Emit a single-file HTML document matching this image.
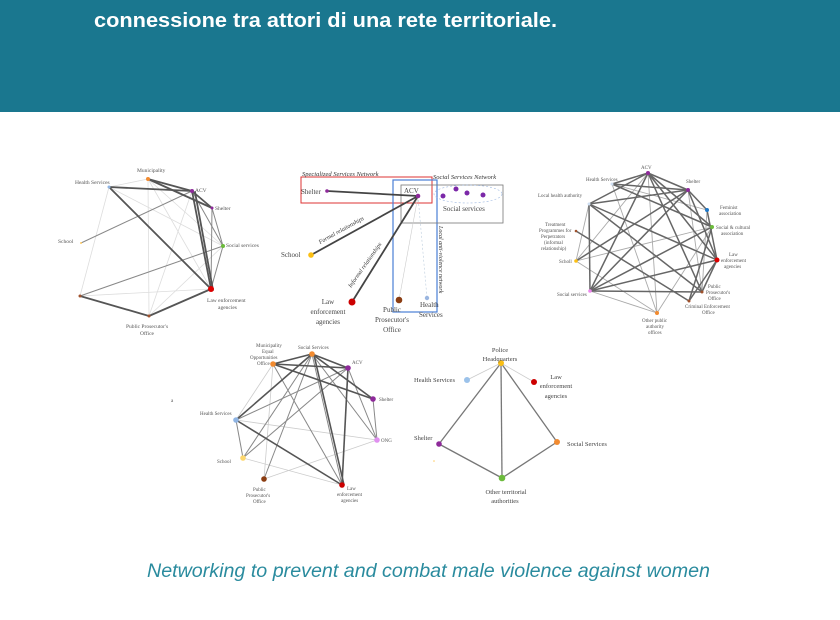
<!DOCTYPE html>
<html><head><meta charset="utf-8"><style>
html,body{margin:0;padding:0;background:#fff;width:840px;height:620px;overflow:hidden}
svg{display:block}
</style></head><body>
<svg width="840" height="620" viewBox="0 0 840 620" xmlns="http://www.w3.org/2000/svg">
<rect x="0" y="0" width="840" height="112" fill="#1a778f"/>
<text x="94" y="27" font-family="Liberation Sans, sans-serif" font-weight="bold" font-size="20" fill="#fff" textLength="463" lengthAdjust="spacingAndGlyphs">connessione tra attori di una rete territoriale.</text>
<text x="147" y="577" font-family="Liberation Sans, sans-serif" font-style="italic" font-size="19" fill="#2a8b9e" textLength="563" lengthAdjust="spacingAndGlyphs">Networking to prevent and combat male violence against women</text>

<g font-family="Liberation Serif, serif" font-size="5.5" fill="#555">
<!-- Graph 1 -->
<g stroke-linecap="round">
<g stroke="#ddd" stroke-width="0.8">
<line x1="109" y1="187" x2="148" y2="179"/><line x1="109" y1="187" x2="80" y2="296"/>
<line x1="148" y1="179" x2="149" y2="316"/><line x1="148" y1="179" x2="223" y2="246"/>
<line x1="148" y1="179" x2="211" y2="289"/><line x1="109" y1="187" x2="223" y2="246"/>
<line x1="80" y1="296" x2="211" y2="289"/><line x1="149" y1="316" x2="223" y2="246"/>
<line x1="192" y1="191" x2="149" y2="316"/>
</g>
<g stroke="#888" stroke-width="1">
<line x1="81" y1="243" x2="192" y2="191"/><line x1="80" y1="296" x2="223" y2="246"/>
<line x1="192" y1="191" x2="223" y2="246"/><line x1="212" y1="208" x2="223" y2="246"/>
<line x1="223" y1="246" x2="211" y2="289"/><line x1="212" y1="208" x2="211" y2="289"/>
</g>
<g stroke="#555" stroke-width="1.8">
<line x1="148" y1="179" x2="192" y2="191"/><line x1="148" y1="179" x2="212" y2="208"/>
<line x1="109" y1="187" x2="192" y2="191"/><line x1="109" y1="187" x2="211" y2="289"/>
<line x1="192" y1="191" x2="212" y2="208"/><line x1="192" y1="191" x2="211" y2="289"/>
<line x1="195" y1="192" x2="213" y2="290"/>
<line x1="80" y1="296" x2="149" y2="316"/><line x1="149" y1="316" x2="211" y2="289"/>
</g>
</g>
<circle cx="148" cy="179" r="2" fill="#f28b30"/><circle cx="109" cy="187" r="1.5" fill="#8fb4e3"/>
<circle cx="192" cy="191" r="2" fill="#8e2a9a"/><circle cx="212" cy="208" r="1.5" fill="#8e2a9a"/>
<circle cx="223" cy="246" r="2" fill="#6cbb3c"/><circle cx="211" cy="289" r="3" fill="#d00"/>
<circle cx="149" cy="316" r="1.5" fill="#a0522d"/><circle cx="80" cy="296" r="1.5" fill="#a0522d"/>
<circle cx="81" cy="243" r="1" fill="#fc6"/>
<text x="137" y="172">Municipality</text><text x="75" y="184">Health Services</text>
<text x="195" y="192">ACV</text><text x="215" y="210">Shelter</text>
<text x="226" y="247">Social services</text><text x="207" y="302">Law enforcement</text>
<text x="218" y="309">agencies</text><text x="58" y="243">School</text>
<text x="126" y="328">Public Prosecutor's</text><text x="140" y="335">Office</text>

<!-- Graph 2 -->
<rect x="301" y="177" width="131" height="26" fill="none" stroke="#d33" stroke-width="1"/>
<rect x="393" y="180" width="44" height="132" fill="none" stroke="#4a7fd6" stroke-width="1.2"/>
<rect x="401" y="185" width="102" height="38" fill="none" stroke="#777" stroke-width="0.8"/>
<ellipse cx="468" cy="194" rx="34" ry="9" fill="none" stroke="#9bb6e0" stroke-width="0.6" stroke-dasharray="2 2"/>
<line x1="418" y1="196" x2="399" y2="300" stroke="#ccc" stroke-width="0.6"/>
<line x1="418" y1="196" x2="427" y2="298" stroke="#bcd" stroke-width="0.6" stroke-dasharray="2 2"/>
<g stroke="#444" stroke-width="1.8">
<line x1="327" y1="191" x2="418" y2="196"/><line x1="311" y1="255" x2="418" y2="196"/><line x1="352" y1="302" x2="418" y2="196"/>
</g>
<circle cx="327" cy="191" r="1.8" fill="#8e2a9a"/><circle cx="418" cy="196" r="2.3" fill="#8e2a9a"/>
<circle cx="443" cy="196" r="2.5" fill="#7b28a8"/><circle cx="456" cy="189" r="2.5" fill="#7b28a8"/>
<circle cx="467" cy="193" r="2.5" fill="#7b28a8"/><circle cx="483" cy="195" r="2.5" fill="#7b28a8"/>
<circle cx="311" cy="255" r="2.8" fill="#fbbf14"/><circle cx="352" cy="302" r="3.5" fill="#c00"/>
<circle cx="399" cy="300" r="3.3" fill="#8b3d12"/><circle cx="427" cy="298" r="2.2" fill="#9bb6e0"/>
<g font-style="italic" font-size="6.5" fill="#333">
<text x="302" y="176">Specialized Services Network</text>
<text x="433" y="179">Social Services Network</text>
<text transform="translate(320,244) rotate(-29)" font-size="6">Formal relationships</text>
<text transform="translate(351,288) rotate(-55)" font-size="6">Informal relationships</text>
<text transform="translate(439,226) rotate(90)" font-size="6">Local anti-violence network</text>
</g>
<g font-size="7" fill="#444">
<text x="301" y="194">Shelter</text><text x="404" y="193">ACV</text>
<text x="443" y="211">Social services</text><text x="281" y="257">School</text>
<text x="328" y="304" text-anchor="middle">Law</text><text x="328" y="314" text-anchor="middle">enforcement</text><text x="328" y="324" text-anchor="middle">agencies</text>
<text x="392" y="312" text-anchor="middle">Public</text><text x="392" y="322" text-anchor="middle">Prosecutor's</text><text x="392" y="332" text-anchor="middle">Office</text>
<text x="420" y="307">Health</text><text x="419" y="317">Services</text>
</g>

<!-- Graph 3 -->
<g stroke="#aaa" stroke-width="0.9">
<line x1="576" y1="261" x2="712" y2="227"/><line x1="576" y1="261" x2="657" y2="313"/>
<line x1="576" y1="261" x2="648" y2="173"/><line x1="590" y1="291" x2="702" y2="292"/>
<line x1="612" y1="184" x2="657" y2="313"/><line x1="648" y1="173" x2="657" y2="313"/>
<line x1="590" y1="291" x2="657" y2="313"/><line x1="688" y1="190" x2="702" y2="292"/>
<line x1="707" y1="210" x2="702" y2="292"/><line x1="657" y1="313" x2="712" y2="227"/>
<line x1="612" y1="184" x2="707" y2="210"/><line x1="589" y1="204" x2="576" y2="261"/>
</g>
<g stroke="#666" stroke-width="1.5">
<line x1="648" y1="173" x2="612" y2="184"/><line x1="648" y1="173" x2="688" y2="190"/>
<line x1="648" y1="173" x2="589" y2="204"/><line x1="648" y1="173" x2="590" y2="291"/>
<line x1="648" y1="173" x2="717" y2="260"/><line x1="648" y1="173" x2="712" y2="227"/>
<line x1="648" y1="173" x2="702" y2="292"/><line x1="612" y1="184" x2="688" y2="190"/>
<line x1="612" y1="184" x2="712" y2="227"/><line x1="589" y1="204" x2="688" y2="190"/>
<line x1="589" y1="204" x2="717" y2="260"/><line x1="589" y1="204" x2="702" y2="292"/>
<line x1="589" y1="204" x2="590" y2="291"/><line x1="688" y1="190" x2="590" y2="291"/>
<line x1="688" y1="190" x2="707" y2="210"/><line x1="688" y1="190" x2="717" y2="260"/>
<line x1="688" y1="190" x2="576" y2="261"/><line x1="707" y1="210" x2="717" y2="260"/>
<line x1="712" y1="227" x2="590" y2="291"/><line x1="717" y1="260" x2="590" y2="291"/>
<line x1="717" y1="260" x2="702" y2="292"/><line x1="576" y1="231" x2="689" y2="301"/>
<line x1="590" y1="291" x2="702" y2="292"/><line x1="712" y1="227" x2="689" y2="301"/>
<line x1="717" y1="260" x2="689" y2="301"/>
</g>
<circle cx="648" cy="173" r="2" fill="#8e2a9a"/><circle cx="612" cy="184" r="1.5" fill="#cfdff2"/>
<circle cx="688" cy="190" r="2" fill="#8e2a9a"/><circle cx="589" cy="204" r="1.5" fill="#cfdff2"/>
<circle cx="707" cy="210" r="2" fill="#1f78c8"/><circle cx="712" cy="227" r="2" fill="#6cbb3c"/>
<circle cx="576" cy="231" r="1.3" fill="#a0522d"/><circle cx="717" cy="260" r="2.5" fill="#d00"/>
<circle cx="576" cy="261" r="1.8" fill="#fbbf14"/><circle cx="590" cy="291" r="1.8" fill="#ee88ee"/>
<circle cx="702" cy="292" r="1.5" fill="#a0522d"/><circle cx="689" cy="301" r="1.5" fill="#a0522d"/>
<circle cx="657" cy="313" r="2" fill="#f28b30"/>
<g font-size="5">
<text x="641" y="169">ACV</text><text x="586" y="181">Health Services</text>
<text x="686" y="183">Shelter</text><text x="538" y="197">Local health authority</text>
<text x="720" y="209">Feminist</text><text x="719" y="215">association</text>
<text x="716" y="229">Social &amp; cultural</text><text x="721" y="235">association</text>
<text x="545" y="226">Treatment</text><text x="539" y="232">Programmes for</text><text x="541" y="238">Perpetrators</text><text x="544" y="244">(informal</text><text x="541" y="250">relationship)</text>
<text x="729" y="256">Law</text><text x="721" y="262">enforcement</text><text x="724" y="268">agencies</text>
<text x="559" y="263">Scholl</text><text x="557" y="296">Social services</text>
<text x="708" y="288">Public</text><text x="706" y="294">Prosecutor's</text><text x="708" y="300">Office</text>
<text x="685" y="308">Criminal Enforcement</text><text x="702" y="314">Office</text>
<text x="642" y="322">Other public</text><text x="646" y="328">authority</text><text x="648" y="334">offices</text>
</g>

<!-- Graph 4 -->
<g stroke="#ccc" stroke-width="0.8">
<line x1="273" y1="364" x2="236" y2="420"/><line x1="273" y1="364" x2="264" y2="479"/>
<line x1="236" y1="420" x2="377" y2="440"/><line x1="243" y1="458" x2="342" y2="485"/>
<line x1="264" y1="479" x2="377" y2="440"/>
</g>
<g stroke="#888" stroke-width="1">
<line x1="236" y1="420" x2="243" y2="458"/><line x1="243" y1="458" x2="312" y2="354"/>
<line x1="264" y1="479" x2="312" y2="354"/><line x1="312" y1="354" x2="377" y2="440"/>
<line x1="348" y1="368" x2="377" y2="440"/><line x1="373" y1="399" x2="377" y2="440"/>
<line x1="236" y1="420" x2="348" y2="368"/><line x1="348" y1="368" x2="243" y2="458"/>
<line x1="273" y1="364" x2="342" y2="485"/><line x1="312" y1="354" x2="342" y2="485"/>
</g>
<g stroke="#555" stroke-width="1.6">
<line x1="273" y1="364" x2="312" y2="354"/><line x1="273" y1="364" x2="348" y2="368"/>
<line x1="273" y1="364" x2="373" y2="399"/><line x1="312" y1="354" x2="348" y2="368"/>
<line x1="312" y1="354" x2="373" y2="399"/><line x1="236" y1="420" x2="312" y2="354"/>
<line x1="236" y1="420" x2="342" y2="485"/><line x1="348" y1="368" x2="342" y2="485"/>
<line x1="314" y1="355" x2="344" y2="485"/>
</g>
<circle cx="273" cy="364" r="2.8" fill="#f28b30"/><circle cx="312" cy="354" r="2.8" fill="#f28b30"/>
<circle cx="348" cy="368" r="2.8" fill="#8e2a9a"/><circle cx="373" cy="399" r="2.8" fill="#8e2a9a"/>
<circle cx="377" cy="440" r="2.8" fill="#e090f0"/><circle cx="236" cy="420" r="2.8" fill="#8fb4e3"/>
<circle cx="243" cy="458" r="2.8" fill="#fdd76e"/><circle cx="264" cy="479" r="2.8" fill="#8b3d12"/>
<circle cx="342" cy="485" r="2.8" fill="#c00"/>
<g font-size="5">
<text x="256" y="347">Municipality</text><text x="262" y="353">Equal</text><text x="250" y="359">Opportunities</text><text x="257" y="365">Office</text>
<text x="298" y="349">Social Services</text><text x="352" y="364">ACV</text>
<text x="379" y="401">Shelter</text><text x="381" y="442">ONG</text>
<text x="200" y="415">Health Services</text><text x="217" y="463">School</text>
<text x="253" y="491">Public</text><text x="246" y="497">Prosecutor's</text><text x="253" y="503">Office</text>
<text x="347" y="490">Law</text><text x="337" y="496">enforcement</text><text x="341" y="502">agencies</text>
<text x="171" y="402">a</text>
</g>

<!-- Graph 5 -->
<g stroke="#ccc" stroke-width="0.8">
<line x1="501" y1="363" x2="467" y2="380"/><line x1="501" y1="363" x2="534" y2="382"/>
</g>
<g stroke="#777" stroke-width="1.3">
<line x1="501" y1="363" x2="439" y2="444"/><line x1="501" y1="363" x2="502" y2="478"/>
<line x1="501" y1="363" x2="557" y2="442"/><line x1="439" y1="444" x2="502" y2="478"/>
<line x1="557" y1="442" x2="502" y2="478"/>
</g>
<circle cx="501" cy="363" r="3" fill="#fbbf14"/><circle cx="467" cy="380" r="3" fill="#9bc2ea"/>
<circle cx="534" cy="382" r="3" fill="#c00"/><circle cx="439" cy="444" r="2.8" fill="#8e2a9a"/>
<circle cx="557" cy="442" r="3" fill="#f28b30"/><circle cx="502" cy="478" r="3.3" fill="#6cbb3c"/>
<circle cx="434" cy="461" r="0.8" fill="#fc6"/>
<g font-size="6.5" fill="#444">
<text x="500" y="352" text-anchor="middle">Police</text><text x="500" y="361" text-anchor="middle">Headquarters</text>
<text x="414" y="382">Health Services</text>
<text x="556" y="379" text-anchor="middle">Law</text><text x="556" y="388" text-anchor="middle">enforcement</text><text x="556" y="398" text-anchor="middle">agencies</text>
<text x="414" y="440">Shelter</text><text x="567" y="446">Social Services</text>
<text x="506" y="494" text-anchor="middle">Other territorial</text><text x="505" y="503" text-anchor="middle">authorities</text>
</g>
</g>
</svg>
</body></html>
